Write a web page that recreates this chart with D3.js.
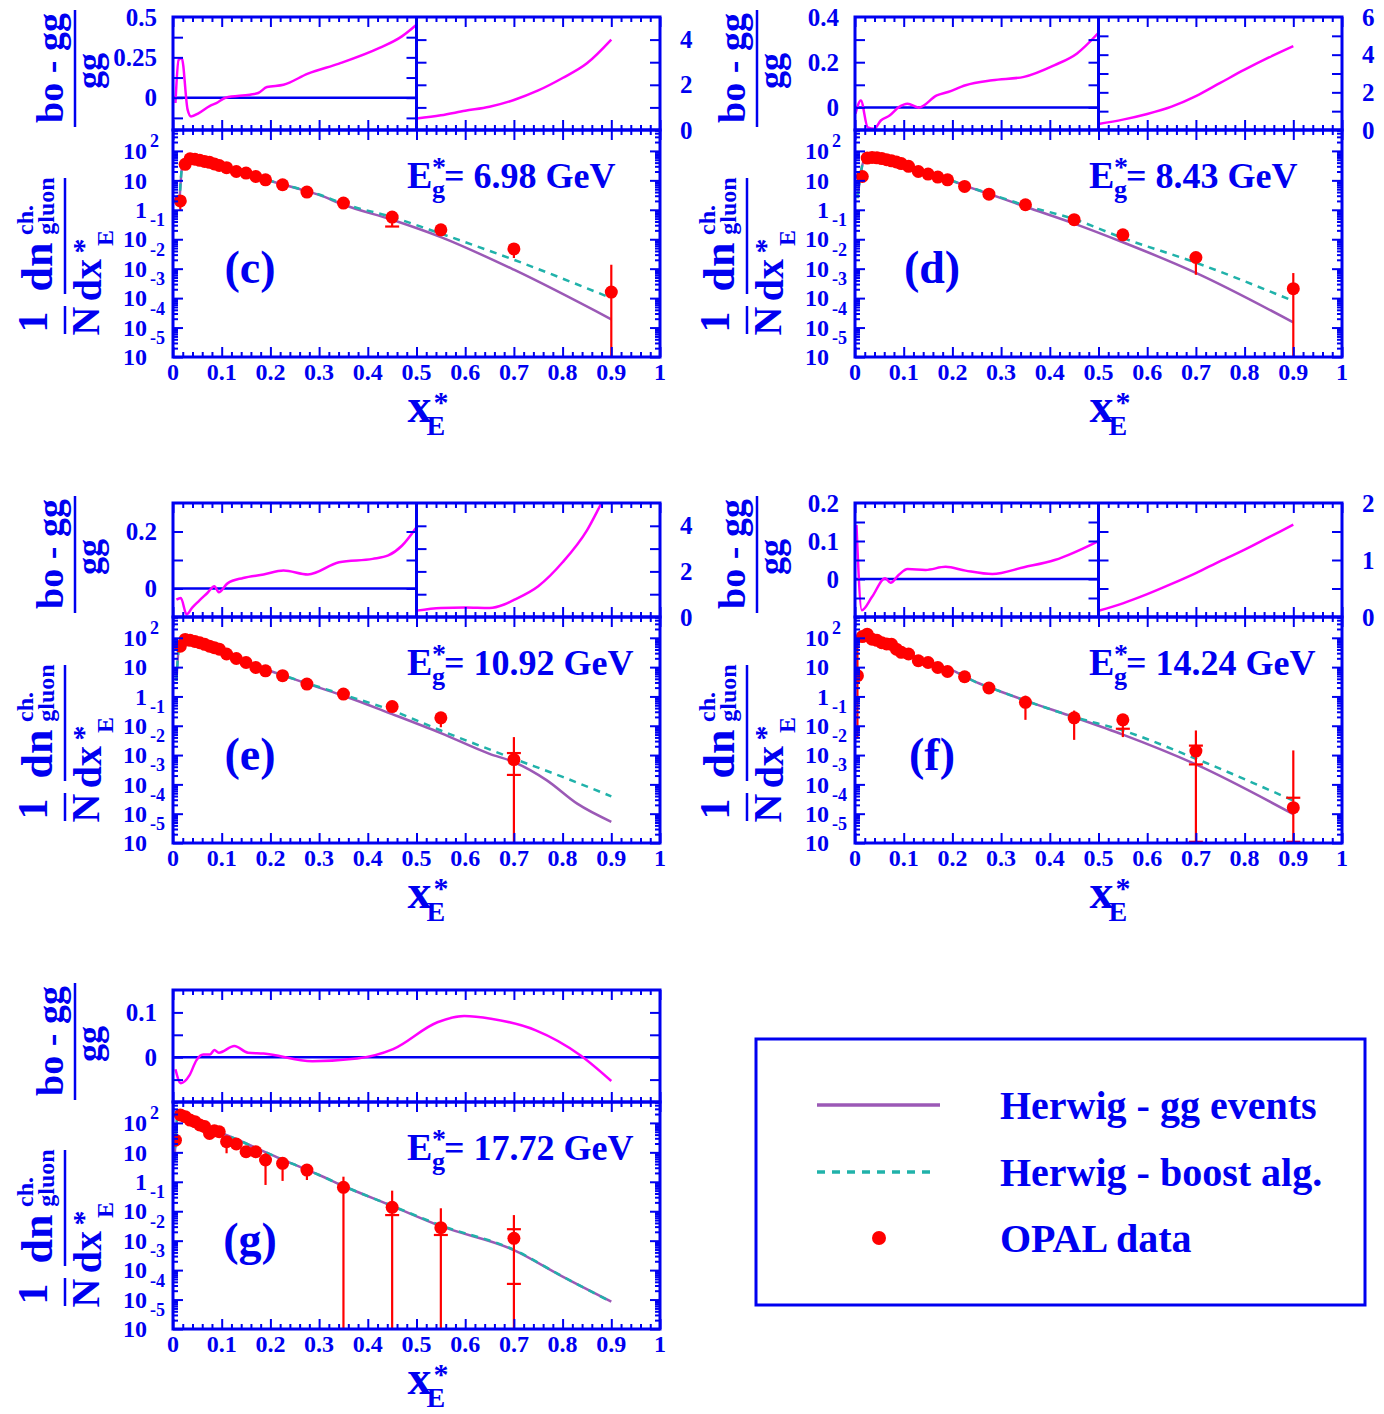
<!DOCTYPE html>
<html><head><meta charset="utf-8">
<script src="https://cdn.jsdelivr.net/npm/d3@7"></script>
<style>
body{margin:0;background:#fff}
svg text{font-family:"Liberation Serif","Times New Roman",serif;font-weight:bold;fill:#0000f0}
</style></head>
<body><svg id="chart" width="1384" height="1414"></svg>
<script>
// ---------------- shared axis / label data ----------------
const xTickValues = [0,0.1,0.2,0.3,0.4,0.5,0.6,0.7,0.8,0.9,1];
const xTickLabels = ["0","0.1","0.2","0.3","0.4","0.5","0.6","0.7","0.8","0.9","1"];
const yDecades = [-5,-4,-3,-2,-1,0,1,2];
const panelNames = ["c","d","e","f","g"];
const panelLabels = ["(c)","(d)","(e)","(f)","(g)"];
const energies = ["6.98","8.43","10.92","14.24","17.72"];
const legendLabels = ["Herwig - gg events","Herwig - boost alg.","OPAL data"];

// ---------------- panel (c) ----------------
const c_x = [0.015,0.025,0.035,0.045,0.055,0.065,0.075,0.085,0.095,0.11,0.13,0.15,0.17,0.19,0.225,0.275,0.35,0.45,0.55,0.7,0.9];
const c_y = [2.0,35,54,52,48,44,41,36,32,27,20,17.6,13.5,10.4,7.1,4.0,1.69,0.565,0.209,0.047,0.0016];
const c_errX = [0.015,0.45,0.7,0.9];
const c_errLo = [1.0,0.27,0.023,1e-7];
const c_errHi = [null,null,null,0.0136];
const c_errCaps = [[],[0.27],[],[]];
const c_ggX = [0.013,0.02,0.03,0.04,0.06,0.08,0.1,0.13,0.15,0.2,0.25,0.3,0.35,0.45,0.55,0.7,0.9];
const c_gg  = [1.6,40,52,53,46,38,29,20,16.5,9.5,5.6,3.2,1.48,0.457,0.118,0.0092,0.00019];
const c_boX = [0.013,0.02,0.03,0.04,0.06,0.08,0.1,0.13,0.15,0.2,0.25,0.3,0.35,0.45,0.55,0.7,0.9];
const c_bo  = [1.6,40,52,53,46,38,29,20,16.5,9.6,5.7,3.3,1.6,0.565,0.155,0.020,0.001];
const c_rLX = [0.005,0.0115,0.018,0.03,0.037,0.053,0.076,0.089,0.108,0.158,0.175,0.193,0.227,0.277,0.341,0.424,0.47,0.5];
const c_rL  = [-0.033,0.235,0.245,-0.074,-0.116,-0.095,-0.05,-0.033,0,0.019,0.029,0.066,0.08,0.149,0.211,0.308,0.38,0.452];
const c_rRX = [0.5,0.55,0.6,0.65,0.7,0.75,0.8,0.85,0.9];
const c_rR  = [0.51,0.65,0.85,1.03,1.33,1.75,2.3,2.95,4.0];
const c_rLDomain = [-0.2,0.5], c_rLTicks = [-0.125,0,0.125,0.25,0.375], c_rLLabels = [0,0.25,0.5];
const c_rRDomain = [0,5], c_rRTicks = [1,2,3,4], c_rRLabels = [0,2,4];

// ---------------- panel (d) ----------------
const d_x = [0.015,0.025,0.035,0.045,0.055,0.065,0.075,0.085,0.095,0.11,0.13,0.15,0.17,0.19,0.225,0.275,0.35,0.45,0.55,0.7,0.9];
const d_y = [13.5,57,60,58,55,50,46,42,37,30,20,16.3,12.9,10.4,6.2,3.4,1.48,0.46,0.141,0.024,0.0021];
const d_errX = [0.7,0.9];
const d_errLo = [0.0062,1e-7];
const d_errHi = [null,0.0071];
const d_errCaps = [[],[]];
const d_ggX = [0.005,0.02,0.03,0.04,0.06,0.08,0.1,0.13,0.15,0.2,0.25,0.3,0.35,0.45,0.55,0.7,0.9];
const d_gg  = [2.5,55,60,59,52,44,35,22,17,9.5,4.8,2.5,1.27,0.34,0.079,0.0072,0.00015];
const d_boX = [0.005,0.02,0.03,0.04,0.06,0.08,0.1,0.13,0.15,0.2,0.25,0.3,0.35,0.45,0.55,0.7,0.9];
const d_bo  = [2.5,55,60,59,52,44,35,22,17,9.6,4.9,2.6,1.4,0.48,0.11,0.016,0.0008];
const d_rLX = [0.001,0.012,0.026,0.039,0.053,0.071,0.09,0.108,0.131,0.168,0.191,0.227,0.282,0.347,0.41,0.456,0.5];
const d_rL  = [-0.028,0.031,-0.088,-0.095,-0.058,-0.036,0.001,0.016,-0.001,0.053,0.068,0.098,0.12,0.135,0.187,0.239,0.33];
const d_rRX = [0.5,0.55,0.6,0.65,0.7,0.75,0.8,0.85,0.9];
const d_rR  = [0.32,0.55,0.85,1.24,1.8,2.5,3.2,3.85,4.45];
const d_rLDomain = [-0.1,0.4], d_rLTicks = [0,0.1,0.2,0.3], d_rLLabels = [0,0.2,0.4];
const d_rRDomain = [0,6], d_rRTicks = [1,2,3,4,5], d_rRLabels = [0,2,4,6];

// ---------------- panel (e) ----------------
const e_x = [0.015,0.025,0.035,0.045,0.055,0.065,0.075,0.085,0.095,0.11,0.13,0.15,0.17,0.19,0.225,0.275,0.35,0.45,0.55,0.7];
const e_y = [52,88,82,75,68,60,52,46,41,28,19.7,14.4,9.7,7.5,5.1,2.65,1.2,0.45,0.186,0.0070];
const e_errX = [0.55,0.7];
const e_errLo = [0.089,1e-7];
const e_errHi = [null,0.041];
const e_errCaps = [[],[0.0117,0.0021]];
const e_ggX = [0.007,0.014,0.025,0.04,0.06,0.08,0.1,0.13,0.15,0.2,0.25,0.3,0.35,0.45,0.55,0.65,0.7,0.767,0.83,0.9];
const e_gg  = [3.4,78,88,78,62,48,36,21,15,7.4,3.8,2.0,1.06,0.25,0.056,0.011,0.0058,0.0014,0.00022,0.000053];
const e_boX = [0.007,0.014,0.025,0.04,0.06,0.08,0.1,0.13,0.15,0.2,0.25,0.3,0.35,0.45,0.55,0.7,0.8,0.9];
const e_bo  = [3.4,78,88,78,62,48,36,21,15,7.4,3.9,2.1,1.15,0.33,0.069,0.0075,0.0018,0.00039];
const e_rLX = [0.007,0.016,0.028,0.039,0.053,0.071,0.085,0.094,0.112,0.144,0.186,0.227,0.277,0.341,0.41,0.442,0.47,0.5];
const e_rL  = [-0.039,-0.033,-0.091,-0.068,-0.044,-0.015,0.008,-0.013,0.018,0.037,0.049,0.063,0.049,0.092,0.104,0.116,0.15,0.215];
const e_rRX = [0.5,0.55,0.6,0.65,0.68,0.7,0.75,0.8,0.85,0.88,0.9];
const e_rR  = [0.28,0.4,0.42,0.4,0.55,0.75,1.35,2.4,3.8,5.0,5.8];
const e_rLDomain = [-0.1,0.3], e_rLTicks = [0,0.1,0.2], e_rLLabels = [0,0.2];
const e_rRDomain = [0,5], e_rRTicks = [1,2,3,4], e_rRLabels = [0,2,4];

// ---------------- panel (f) ----------------
const f_x = [0.005,0.015,0.025,0.035,0.045,0.055,0.065,0.075,0.085,0.095,0.11,0.13,0.15,0.17,0.19,0.225,0.275,0.35,0.45,0.55,0.7,0.9];
const f_y = [5.1,110,133,90,82,68,62,60,41,32,28,16.5,14.4,9.7,7.1,4.7,1.94,0.63,0.186,0.159,0.0137,0.00016];
const f_errX = [0.005,0.35,0.45,0.55,0.7,0.9];
const f_errLo = [0.041,0.159,0.033,0.041,1.1e-5,1.1e-5];
const f_errHi = [91,1.06,0.33,null,0.069,0.0144];
const f_errCaps = [[],[],[],[0.079],[0.021,0.0048,1.1e-5],[3.5e-4,1.1e-5]];
const f_ggX = [0.001,0.007,0.015,0.025,0.04,0.06,0.08,0.1,0.13,0.15,0.2,0.25,0.3,0.35,0.45,0.55,0.7,0.9];
const f_gg  = [7.5,117,125,120,95,70,52,35,20,15,7.8,3.0,1.45,0.72,0.195,0.05,0.0048,0.000096];
const f_boX = [0.001,0.007,0.015,0.025,0.04,0.06,0.08,0.1,0.13,0.15,0.2,0.25,0.3,0.35,0.45,0.55,0.7,0.9];
const f_bo  = [7.5,117,125,120,95,70,52,35,20,15,7.8,3.0,1.45,0.72,0.2,0.069,0.0075,0.00028];
const f_rLX = [0.003,0.014,0.035,0.062,0.073,0.09,0.108,0.145,0.186,0.227,0.282,0.347,0.41,0.5];
const f_rL  = [0.142,-0.082,-0.047,0.002,-0.01,0.011,0.026,0.024,0.032,0.022,0.013,0.031,0.05,0.1];
const f_rRX = [0.5,0.55,0.6,0.65,0.7,0.75,0.8,0.85,0.9];
const f_rR  = [0.11,0.24,0.4,0.58,0.77,0.98,1.18,1.4,1.62];
const f_rLDomain = [-0.1,0.2], f_rLTicks = [-0.05,0,0.05,0.1,0.15], f_rLLabels = [0,0.1,0.2];
const f_rRDomain = [0,2], f_rRTicks = [0.5,1,1.5], f_rRLabels = [0,1,2];

// ---------------- panel (g) ----------------
const g_x = [0.005,0.015,0.025,0.035,0.045,0.055,0.065,0.075,0.085,0.095,0.11,0.13,0.15,0.17,0.19,0.225,0.275,0.35,0.45,0.55,0.7];
const g_y = [26,186,163,125,110,85,75,44,54,50,23,19.2,10.5,10.5,5.5,4.25,2.5,0.65,0.136,0.0276,0.012];
const g_errX = [0.11,0.19,0.225,0.275,0.35,0.45,0.55,0.7];
const g_errLo = [9.3,0.78,1.07,1.15,1e-7,1e-7,1e-7,1e-7];
const g_errHi = [null,9.3,null,null,1.49,0.5,0.126,0.074];
const g_errCaps = [[],[],[],[],[],[0.074],[0.0156],[0.0245,3.4e-4]];
const g_ggX = [0.003,0.01,0.02,0.04,0.06,0.08,0.1,0.13,0.15,0.2,0.25,0.3,0.35,0.45,0.55,0.7,0.8,0.9];
const g_gg  = [5,190,170,120,85,62,45,28,20,8.5,3.8,1.7,0.72,0.15,0.031,0.0048,0.0006,0.000085];
const g_boX = [0.003,0.01,0.02,0.04,0.06,0.08,0.1,0.13,0.15,0.2,0.25,0.3,0.35,0.45,0.55,0.7,0.8,0.9];
const g_bo  = [5,190,170,120,85,62,45,28,20,8.5,3.8,1.7,0.72,0.152,0.033,0.0049,0.00061,0.000082];
const g_rLX = [0.005,0.016,0.034,0.048,0.062,0.076,0.085,0.094,0.126,0.154,0.186,0.286,0.378,0.452,0.543,0.598,0.653,0.745,0.837,0.9];
const g_rL  = [-0.027,-0.058,-0.04,-0.007,0.006,0.006,0.016,0.01,0.025,0.01,0.008,-0.009,-0.003,0.018,0.078,0.092,0.086,0.06,0.004,-0.053];
const g_rLDomain = [-0.1,0.15], g_rLTicks = [-0.05,0,0.05,0.1], g_rLLabels = [0,0.1];

// ---------------- assemble ----------------
const P = {
  c:{x:c_x,y:c_y,errX:c_errX,errLo:c_errLo,errHi:c_errHi,errCaps:c_errCaps,ggX:c_ggX,gg:c_gg,boX:c_boX,bo:c_bo,rLX:c_rLX,rL:c_rL,rRX:c_rRX,rR:c_rR,rLDomain:c_rLDomain,rLTicks:c_rLTicks,rLLabels:c_rLLabels,rRDomain:c_rRDomain,rRTicks:c_rRTicks,rRLabels:c_rRLabels},
  d:{x:d_x,y:d_y,errX:d_errX,errLo:d_errLo,errHi:d_errHi,errCaps:d_errCaps,ggX:d_ggX,gg:d_gg,boX:d_boX,bo:d_bo,rLX:d_rLX,rL:d_rL,rRX:d_rRX,rR:d_rR,rLDomain:d_rLDomain,rLTicks:d_rLTicks,rLLabels:d_rLLabels,rRDomain:d_rRDomain,rRTicks:d_rRTicks,rRLabels:d_rRLabels},
  e:{x:e_x,y:e_y,errX:e_errX,errLo:e_errLo,errHi:e_errHi,errCaps:e_errCaps,ggX:e_ggX,gg:e_gg,boX:e_boX,bo:e_bo,rLX:e_rLX,rL:e_rL,rRX:e_rRX,rR:e_rR,rLDomain:e_rLDomain,rLTicks:e_rLTicks,rLLabels:e_rLLabels,rRDomain:e_rRDomain,rRTicks:e_rRTicks,rRLabels:e_rRLabels},
  f:{x:f_x,y:f_y,errX:f_errX,errLo:f_errLo,errHi:f_errHi,errCaps:f_errCaps,ggX:f_ggX,gg:f_gg,boX:f_boX,bo:f_bo,rLX:f_rLX,rL:f_rL,rRX:f_rRX,rR:f_rR,rLDomain:f_rLDomain,rLTicks:f_rLTicks,rLLabels:f_rLLabels,rRDomain:f_rRDomain,rRTicks:f_rRTicks,rRLabels:f_rRLabels},
  g:{x:g_x,y:g_y,errX:g_errX,errLo:g_errLo,errHi:g_errHi,errCaps:g_errCaps,ggX:g_ggX,gg:g_gg,boX:g_boX,bo:g_bo,rLX:g_rLX,rL:g_rL,rRX:null,rR:null,rLDomain:g_rLDomain,rLTicks:g_rLTicks,rLLabels:g_rLLabels,rRDomain:null,rRTicks:null,rRLabels:null}
};

// layout (positions only)
const LAY = {
  c:{left:173,right:660,rTop:17,mid:130,bottom:357,split:true},
  d:{left:855,right:1342,rTop:17,mid:130,bottom:357,split:true},
  e:{left:173,right:660,rTop:503,mid:617,bottom:843,split:true},
  f:{left:855,right:1342,rTop:503,mid:617,bottom:843,split:true},
  g:{left:173,right:660,rTop:990,mid:1102,bottom:1329,split:false}
};

const BLUE = "#0000f0", MAG = "#ff00ff", PURPLE = "#9b59b6", TEAL = "#20b2aa", RED = "#ff0000";
const svg = d3.select("#chart");
const defs = svg.append("defs");

function T(g, x, y, s, size, anchor) {
  return g.append("text").attr("x", x).attr("y", y).attr("font-size", size)
    .attr("text-anchor", anchor || "start").text(s);
}
function RT(g, cx, cy, s, size, sx) {
  return g.append("text").attr("transform", `translate(${cx},${cy}) rotate(-90) scale(${sx||1},1)`)
    .attr("font-size", size).attr("text-anchor", "middle").attr("dominant-baseline", "central").text(s);
}
function ticks(g, axis, tr, vals, len, w) {
  g.append("g").attr("transform", tr)
    .call(axis.tickValues(vals).tickSize(-len).tickFormat(""))
    .call(s => { s.select(".domain").remove(); s.selectAll("text").remove();
      s.selectAll("line").attr("stroke", BLUE).attr("stroke-width", w || 2); });
}

const xMinor = d3.range(1, 50).map(i => i * 0.02).filter(v => Math.abs(v * 10 - Math.round(v * 10)) > 1e-6);
const yTop = Math.pow(10, 2.71);
const yMajor = yDecades.map(e => Math.pow(10, e));
const yMinor = [];
yDecades.forEach(e => { for (let m = 2; m <= 9; m++) { const v = m * Math.pow(10, e); if (v < yTop) yMinor.push(v); } });

function drawPanel(name, idx) {
  const L = LAY[name], D = P[name];
  const g = svg.append("g");
  const x = d3.scaleLinear().domain([0, 1]).range([L.left, L.right]);
  const y = d3.scaleLog().domain([1e-5, yTop]).range([L.bottom, L.mid]);
  const div = L.split ? x(0.5) : L.right;
  const yl = d3.scaleLinear().domain(D.rLDomain).range([L.mid, L.rTop]);
  const yr = L.split ? d3.scaleLinear().domain(D.rRDomain).range([L.mid, L.rTop]) : yl;

  // clips
  defs.append("clipPath").attr("id", "cm" + name).append("rect")
    .attr("x", L.left).attr("y", L.mid).attr("width", L.right - L.left).attr("height", L.bottom - L.mid);
  defs.append("clipPath").attr("id", "cl" + name).append("rect")
    .attr("x", L.left).attr("y", L.rTop).attr("width", div - L.left).attr("height", L.mid - L.rTop);
  defs.append("clipPath").attr("id", "cr" + name).append("rect")
    .attr("x", div).attr("y", L.rTop).attr("width", L.right - div).attr("height", L.mid - L.rTop);

  // ---- ratio panel ----
  g.append("line").attr("x1", L.left).attr("x2", div).attr("y1", yl(0)).attr("y2", yl(0))
    .attr("stroke", BLUE).attr("stroke-width", 2.5);
  const rline = (sx, sy) => d3.line().x(d => x(d[0])).y(d => sy(d[1])).curve(d3.curveMonotoneX);
  g.append("path").attr("clip-path", `url(#cl${name})`)
    .attr("d", rline(x, yl)(D.rLX.map((v, i) => [v, D.rL[i]])))
    .attr("fill", "none").attr("stroke", MAG).attr("stroke-width", 2.5);
  if (L.split) {
    g.append("path").attr("clip-path", `url(#cr${name})`)
      .attr("d", rline(x, yr)(D.rRX.map((v, i) => [v, D.rR[i]])))
      .attr("fill", "none").attr("stroke", MAG).attr("stroke-width", 2.5);
  }
  // ratio ticks
  ticks(g, d3.axisTop(x), `translate(0,${L.rTop})`, xTickValues, 10);
  ticks(g, d3.axisTop(x), `translate(0,${L.rTop})`, xMinor, 5);
  ticks(g, d3.axisBottom(x), `translate(0,${L.mid})`, xTickValues, 10);
  ticks(g, d3.axisBottom(x), `translate(0,${L.mid})`, xMinor, 5);
  ticks(g, d3.axisLeft(yl), `translate(${L.left},0)`, D.rLTicks, 10);
  if (L.split) {
    ticks(g, d3.axisRight(yl), `translate(${div},0)`, D.rLTicks, 10);
    ticks(g, d3.axisLeft(yr), `translate(${div},0)`, D.rRTicks, 10);
    ticks(g, d3.axisRight(yr), `translate(${L.right},0)`, D.rRTicks, 10);
  } else {
    ticks(g, d3.axisRight(yl), `translate(${L.right},0)`, D.rLTicks, 10);
  }
  g.append("rect").attr("x", L.left).attr("y", L.rTop).attr("width", L.right - L.left).attr("height", L.mid - L.rTop)
    .attr("fill", "none").attr("stroke", BLUE).attr("stroke-width", 3);
  if (L.split) g.append("line").attr("x1", div).attr("x2", div).attr("y1", L.rTop).attr("y2", L.mid)
    .attr("stroke", BLUE).attr("stroke-width", 3);
  // ratio labels
  D.rLLabels.forEach(v => T(g, L.left - 16, yl(v), String(v), 25, "end").attr("dy", "0.34em"));
  if (L.split) D.rRLabels.forEach(v => T(g, L.right + 20, yr(v), String(v), 25, "start").attr("dy", "0.34em"));
  // ratio title
  RT(g, L.left - 123, L.rTop + 51, "bo - gg", 38);
  g.append("line").attr("x1", L.left - 98).attr("x2", L.left - 98).attr("y1", L.rTop - 7).attr("y2", L.rTop + 110)
    .attr("stroke", BLUE).attr("stroke-width", 2.5);
  RT(g, L.left - 84, L.rTop + 54, "gg", 36);

  // ---- main panel ----
  const mline = d3.line().x(d => x(d[0])).y(d => y(d[1])).curve(d3.curveMonotoneX);
  const mg = g.append("g").attr("clip-path", `url(#cm${name})`);
  mg.append("path").attr("d", mline(D.ggX.map((v, i) => [v, D.gg[i]])))
    .attr("fill", "none").attr("stroke", PURPLE).attr("stroke-width", 2.5);
  mg.append("path").attr("d", mline(D.boX.map((v, i) => [v, D.bo[i]])))
    .attr("fill", "none").attr("stroke", TEAL).attr("stroke-width", 2.5).attr("stroke-dasharray", "7,6");
  // error bars
  D.errX.forEach((ex, i) => {
    const j = D.x.findIndex(v => Math.abs(v - ex) < 1e-9);
    const val = D.y[j];
    const hi = D.errHi[i] == null ? val : D.errHi[i];
    const lo = D.errLo[i] == null ? val : D.errLo[i];
    mg.append("line").attr("x1", x(ex)).attr("x2", x(ex)).attr("y1", y(hi)).attr("y2", y(lo))
      .attr("stroke", RED).attr("stroke-width", 2.2);
    D.errCaps[i].forEach(cv => mg.append("line").attr("x1", x(ex) - 7).attr("x2", x(ex) + 7)
      .attr("y1", y(cv)).attr("y2", y(cv)).attr("stroke", RED).attr("stroke-width", 2.2));
  });
  mg.selectAll("circle.pt").data(D.x.map((v, i) => [v, D.y[i]])).join("circle")
    .attr("cx", d => x(d[0])).attr("cy", d => y(d[1])).attr("r", 6.5).attr("fill", RED);

  // main ticks
  ticks(g, d3.axisBottom(x), `translate(0,${L.bottom})`, xTickValues, 10);
  ticks(g, d3.axisBottom(x), `translate(0,${L.bottom})`, xMinor, 5);
  ticks(g, d3.axisTop(x), `translate(0,${L.mid})`, xTickValues, 10);
  ticks(g, d3.axisTop(x), `translate(0,${L.mid})`, xMinor, 5);
  ticks(g, d3.axisLeft(y), `translate(${L.left},0)`, yMajor, 10);
  ticks(g, d3.axisLeft(y), `translate(${L.left},0)`, yMinor, 5);
  ticks(g, d3.axisRight(y), `translate(${L.right},0)`, yMajor, 10);
  ticks(g, d3.axisRight(y), `translate(${L.right},0)`, yMinor, 5);
  g.append("rect").attr("x", L.left).attr("y", L.mid).attr("width", L.right - L.left).attr("height", L.bottom - L.mid)
    .attr("fill", "none").attr("stroke", BLUE).attr("stroke-width", 3);

  // x tick labels
  xTickValues.forEach((v, i) => T(g, x(v), L.bottom + 15, xTickLabels[i], 24, "middle").attr("dy", "0.34em"));
  // y tick labels (log)
  yDecades.forEach(e => {
    const ty = y(Math.pow(10, e));
    if (e === 0) { T(g, L.left - 26, ty, "1", 24, "end").attr("dy", "0.34em"); return; }
    T(g, L.left - 26, ty, "10", 24, "end").attr("dy", "0.34em");
    if (e !== 1) T(g, L.left - 23, ty + (e > 0 ? -10 : -19), String(e), 18, "start").attr("dy", "0.34em");
  });
  // x title
  const cx = (L.left + L.right) / 2;
  T(g, cx + 3, L.bottom + 65, "x", 48, "middle");
  T(g, cx + 17, L.bottom + 55, "*", 30, "start");
  T(g, cx + 10, L.bottom + 78, "E", 28, "start");
  // main y title (rotated)
  RT(g, L.left - 140, L.mid + 192, "1", 42);
  g.append("line").attr("x1", L.left - 108).attr("x2", L.left - 108).attr("y1", L.mid + 176).attr("y2", L.mid + 204)
    .attr("stroke", BLUE).attr("stroke-width", 2.5);
  RT(g, L.left - 88, L.mid + 191, "N", 40);
  g.append("line").attr("x1", L.left - 108).attr("x2", L.left - 108).attr("y1", L.mid + 48).attr("y2", L.mid + 164)
    .attr("stroke", BLUE).attr("stroke-width", 2.5);
  RT(g, L.left - 136, L.mid + 137, "dn", 44);
  RT(g, L.left - 148, L.mid + 90, "ch.", 24);
  RT(g, L.left - 127, L.mid + 76, "gluon", 24);
  RT(g, L.left - 86, L.mid + 150, "dx", 40);
  RT(g, L.left - 91, L.mid + 116, "*", 30);
  RT(g, L.left - 68, L.mid + 108, "E", 24);
  // energy label
  T(g, L.left + 234, L.mid + 58, "E", 38, "start");
  T(g, L.left + 259, L.mid + 46, "*", 28, "start");
  T(g, L.left + 259, L.mid + 68, "g", 26, "start");
  T(g, L.left + 271, L.mid + 58, "= " + energies[idx] + " GeV", 36, "start");
  // panel label
  T(g, L.left + 77, L.mid + 153, panelLabels[idx], 46, "middle");
}

panelNames.forEach((n, i) => drawPanel(n, i));

// ---------------- legend ----------------
const lg = svg.append("g");
lg.append("rect").attr("x", 756).attr("y", 1039).attr("width", 609).attr("height", 266)
  .attr("fill", "none").attr("stroke", BLUE).attr("stroke-width", 3);
lg.append("line").attr("x1", 817).attr("x2", 940).attr("y1", 1105).attr("y2", 1105)
  .attr("stroke", PURPLE).attr("stroke-width", 3.5);
lg.append("line").attr("x1", 817).attr("x2", 934).attr("y1", 1172).attr("y2", 1172)
  .attr("stroke", TEAL).attr("stroke-width", 3.5).attr("stroke-dasharray", "8,7");
lg.append("circle").attr("cx", 879).attr("cy", 1238).attr("r", 7).attr("fill", RED);
[1105, 1172, 1238].forEach((yy, i) => T(lg, 1000, yy, legendLabels[i], 40, "start").attr("dy", "0.34em"));
</script>
</body></html>
